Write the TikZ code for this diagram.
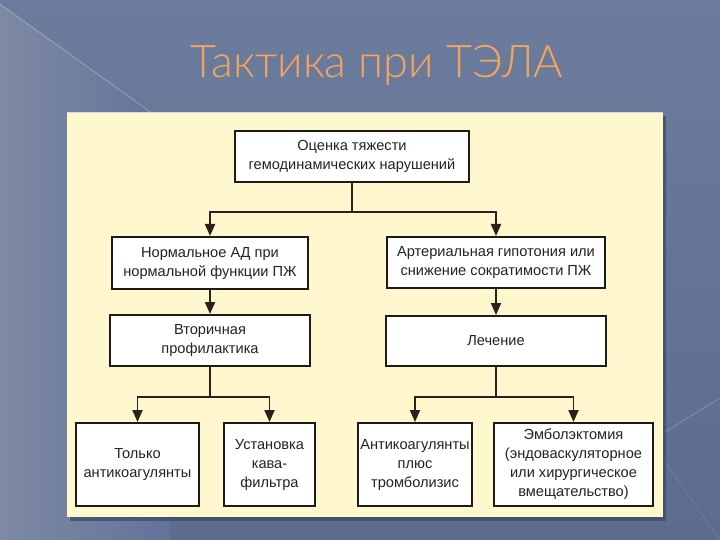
\documentclass[tikz,border=0pt]{standalone}
\usepackage{fontspec}
\setmainfont{Liberation Sans}
\newfontfamily\titlefont{Lato Light}
\usetikzlibrary{arrows.meta, positioning}

\definecolor{slidetop}{HTML}{6C7C9C}
\definecolor{slidemid}{HTML}{4E5E80}
\definecolor{slidebot}{HTML}{5C6C8C}
\definecolor{facetlight}{HTML}{7E8AA2}
\definecolor{facetdark}{HTML}{63729A}
\definecolor{panelcream}{HTML}{FFF7CD}
\definecolor{panelshadow}{HTML}{33405C}
\definecolor{boxline}{HTML}{1E1A18}
\definecolor{boxtext}{HTML}{262220}
\definecolor{arrowline}{HTML}{2A211C}
\definecolor{titleorange}{HTML}{F7A460}

\begin{document}
\begin{tikzpicture}[
    x=1pt, y=1pt,
    node distance=24pt,
    block/.style={rectangle, draw=boxline, fill=white, line width=2pt, align=center, inner sep=2pt, text=boxtext, font=\fontsize{14.6}{19}\selectfont},
    arrow/.style={-{Triangle[width=10pt,length=12pt]}, line width=1.9pt, draw=arrowline}
]
    \useasboundingbox (0,0) rectangle (720,-540);
    \shade[top color=slidetop, middle color=slidemid, bottom color=slidebot] (0,0) rectangle (720,-540);
    \shade[left color=facetlight, right color=facetdark] (0,-4) -- (170,-126) -- (170,-540) -- (0,-540) -- cycle;
    \draw[white, opacity=0.3, line width=0.8pt] (0,-4) -- (170,-126);
    \draw[white, opacity=0.22, line width=0.8pt] (720,-398) -- (655,-438);
    \draw[white, opacity=0.1, line width=0.8pt] (660,-455) -- (720,-540);

    \fill[panelshadow, opacity=0.6] (70,-116) rectangle (666,-521);
    \fill[panelcream] (67,-113) rectangle (663,-517);
    \draw[white, opacity=0.7, line width=1pt] (67,-113) -- (663,-113);

    \node[anchor=base, font=\titlefont\fontsize{45}{50}\selectfont, text=titleorange] (title) at (377,-78) {Тактика при ТЭЛА};

    \node[block, minimum width=234pt, minimum height=51pt] (assess) at (352,-156.5) {Оценка тяжести\\гемодинамических нарушений};
    \node[block, minimum width=196pt, minimum height=52pt, below=53pt of assess, xshift=-142pt] (normal) {Нормальное АД при\\нормальной функции ПЖ};
    \node[block, minimum width=218pt, minimum height=51pt, below=53pt of assess, xshift=144pt] (hypot) {Артериальная гипотония или\\снижение сократимости ПЖ};
    \node[block, minimum width=200pt, minimum height=51pt, below=24pt of normal] (prophyl) {Вторичная\\профилактика};
    \node[block, minimum width=220pt, minimum height=50pt, below=26pt of hypot] (therapy) {Лечение};
    \node[block, minimum width=123pt, minimum height=83pt, below=55pt of prophyl, xshift=-72.5pt] (anticoag) {Только\\антикоагулянты};
    \node[block, minimum width=91pt, minimum height=83pt, right=23pt of anticoag] (cavafilter) {Установка\\кава-\\фильтра};
    \node[block, minimum width=114pt, minimum height=83pt, below=55pt of therapy, xshift=-81pt] (thrombo) {Антикоагулянты\\плюс\\тромболизис};
    \node[block, minimum width=159pt, minimum height=83pt, right=20pt of thrombo] (embolect) {Эмболэктомия\\(эндоваскуляторное\\или хирургическое\\вмещательство)};

    \draw[arrow] (assess.south) -- ++(0,-29) -| (normal.north);
    \draw[arrow] (assess.south) -- ++(0,-29) -| (hypot.north);
    \draw[arrow] (normal) -- (prophyl);
    \draw[arrow] (hypot) -- (therapy);
    \draw[arrow] (prophyl.south) -- ++(0,-30) -| (anticoag.north);
    \draw[arrow] (prophyl.south) -- ++(0,-30) -| (cavafilter.north);
    \draw[arrow] (therapy.south) -- ++(0,-30) -| (thrombo.north);
    \draw[arrow] (therapy.south) -- ++(0,-30) -| (embolect.north);
\end{tikzpicture}
\end{document}
